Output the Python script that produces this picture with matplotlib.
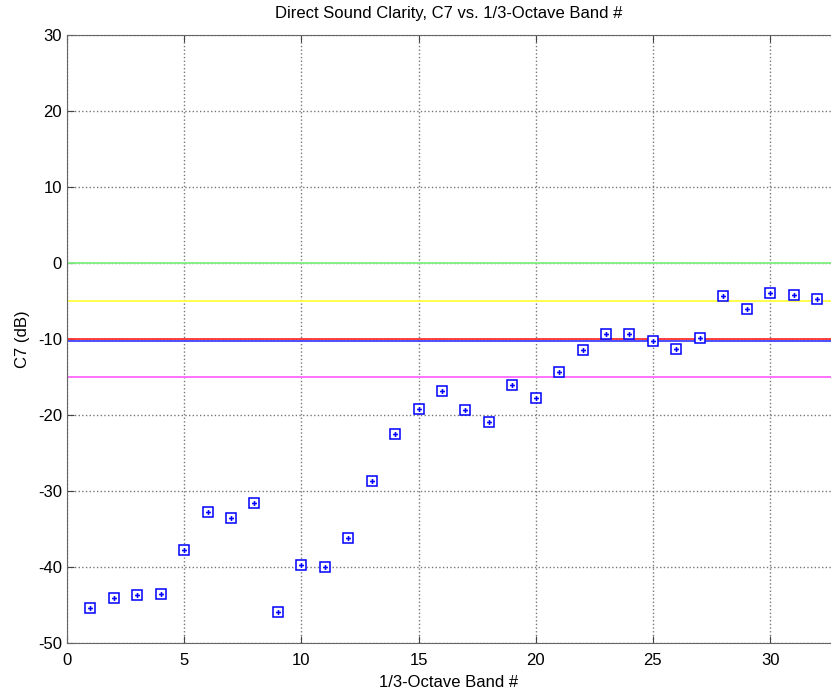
import matplotlib
matplotlib.use("Agg")
import matplotlib.pyplot as plt

plt.rcParams["font.family"] = ["Liberation Sans", "DejaVu Sans"]
plt.rcParams["axes.unicode_minus"] = False

bands = list(range(1, 33))
c7 = [-45.4, -44.1, -43.7, -43.5, -37.8, -32.7, -33.5, -31.6,
      -45.9, -39.7, -40.0, -36.2, -28.7, -22.5, -19.2, -16.9,
      -19.3, -20.9, -16.1, -17.8, -14.4, -11.5, -9.3, -9.4,
      -10.3, -11.3, -9.8, -4.4, -6.0, -3.9, -4.2, -4.7]

ref_levels = [0, -5, -10, -10.25, -15]
ref_colors = ["#80f080", "#ffff40", "#ff3030", "#4040ff", "#ff66ff"]

fig = plt.figure(figsize=(8.31, 6.96), dpi=100)
ax = fig.add_axes([0.0806, 0.0761, 0.9194, 0.8736])

for lvl, col in zip(ref_levels, ref_colors):
    ax.axhline(lvl, color=col, lw=1.3, zorder=2)

ax.plot(bands, c7, ls="none", marker="s", ms=6.5, mfc="white", mec="blue",
        mew=1.1, zorder=3)
ax.plot(bands, c7, ls="none", marker="P", ms=3.5, color="blue", mew=0, zorder=4)

ax.set_xlim(0, 32.6)
ax.set_ylim(-50, 30)
ax.set_xticks(range(0, 31, 5))
ax.set_yticks(range(-50, 31, 10))
ax.grid(True, ls=":", color="#777777", lw=1)
ax.tick_params(direction="in", top=True, right=False, labelsize=12,
               length=5, color="#444444")
ax.tick_params(axis="x", pad=7)
for side in ["left", "bottom", "top"]:
    ax.spines[side].set_color("#666666")
ax.spines["right"].set_visible(False)

ax.set_title("Direct Sound Clarity, C7 vs. 1/3-Octave Band #", fontsize=12, pad=12)
ax.set_xlabel("1/3-Octave Band #", fontsize=12, labelpad=5)
ax.set_ylabel("C7 (dB)", fontsize=12, labelpad=6)

fig.savefig("out.png", dpi=100)
